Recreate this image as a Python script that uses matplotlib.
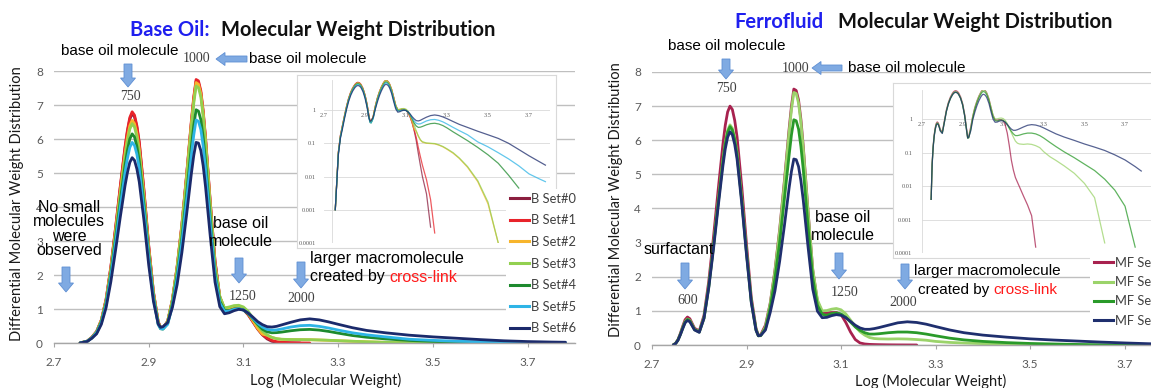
import numpy as np
import matplotlib
matplotlib.use("Agg")
import matplotlib.pyplot as plt
from matplotlib.patches import FancyArrow
from matplotlib.lines import Line2D
from matplotlib.ticker import NullLocator

nan = np.nan

# ---------------- data: base oil ----------------
log_mw_base = [2.755, 2.77, 2.78, 2.79, 2.80, 2.81, 2.82, 2.83, 2.84, 2.85,
               2.855, 2.86, 2.865, 2.87, 2.875, 2.88, 2.89, 2.90, 2.91, 2.92,
               2.925, 2.93, 2.94, 2.95, 2.96, 2.97, 2.98, 2.99, 2.995, 3.00,
               3.005, 3.01, 3.015, 3.02, 3.03, 3.04, 3.05, 3.06, 3.07, 3.08,
               3.09, 3.10, 3.11, 3.12, 3.13, 3.14, 3.15, 3.16, 3.17, 3.18,
               3.20, 3.22, 3.24, 3.26, 3.28, 3.30, 3.33, 3.36, 3.40, 3.45,
               3.50, 3.55, 3.60, 3.65, 3.70, 3.75, 3.78]

b_set0 = [0.001, 0.053, 0.17, 0.34, 0.67, 1.28, 2.22, 3.37, 4.58, 5.73,
          6.21, 6.58, 6.75, 6.65, 6.34, 5.87, 4.45, 2.84, 1.49, 0.62,
          0.46, 0.44, 0.64, 1.27, 2.24, 3.46, 4.93, 6.48, 7.18, 7.70,
          7.66, 7.37, 6.78, 5.99, 4.11, 2.40, 1.35, 1.00, 1.00, 1.04,
          1.04, 0.98, 0.83, 0.62, 0.41, 0.24, 0.12, 0.05, 0.022, 0.01,
          0.003, 0.0003] + [nan] * 15
b_set1 = [0.001, 0.054, 0.17, 0.34, 0.68, 1.29, 2.24, 3.40, 4.62, 5.78,
          6.26, 6.63, 6.80, 6.70, 6.39, 5.92, 4.49, 2.86, 1.50, 0.62,
          0.46, 0.44, 0.64, 1.28, 2.26, 3.49, 4.96, 6.53, 7.23, 7.75,
          7.71, 7.42, 6.83, 6.03, 4.14, 2.41, 1.36, 1.00, 1.01, 1.05,
          1.05, 0.99, 0.84, 0.63, 0.42, 0.25, 0.15, 0.075, 0.04, 0.022,
          0.008, 0.002, 0.0002] + [nan] * 14
b_set2 = [0.001, 0.052, 0.16, 0.33, 0.66, 1.24, 2.16, 3.28, 4.45, 5.57,
          6.03, 6.39, 6.55, 6.45, 6.16, 5.70, 4.32, 2.75, 1.44, 0.61,
          0.45, 0.42, 0.64, 1.26, 2.23, 3.44, 4.90, 6.45, 7.13, 7.66,
          7.61, 7.33, 6.75, 5.95, 4.05, 2.29, 1.36, 1.02, 1.04, 1.08,
          1.08, 1.02, 0.86, 0.65, 0.43, 0.26, 0.23, 0.163, 0.125, 0.108,
          0.10, 0.098, 0.096, 0.088, 0.078, 0.066, 0.05, 0.035, 0.019, 0.007,
          0.0015, 0.0001] + [nan] * 5
b_set3 = [0.001, 0.05, 0.16, 0.32, 0.65, 1.23, 2.13, 3.23, 4.39, 5.48,
          5.93, 6.29, 6.45, 6.35, 6.06, 5.61, 4.26, 2.71, 1.42, 0.60,
          0.44, 0.42, 0.63, 1.25, 2.20, 3.40, 4.83, 6.36, 7.04, 7.56,
          7.51, 7.24, 6.67, 5.88, 4.00, 2.28, 1.37, 1.03, 1.06, 1.10,
          1.11, 1.06, 0.93, 0.73, 0.52, 0.35, 0.235, 0.166, 0.128, 0.111,
          0.102, 0.10, 0.098, 0.09, 0.08, 0.068, 0.052, 0.036, 0.02, 0.0075,
          0.0017, 0.0001] + [nan] * 5
b_set4 = [0.001, 0.05, 0.15, 0.31, 0.62, 1.17, 2.03, 3.08, 4.18, 5.23,
          5.66, 6.00, 6.15, 6.06, 5.78, 5.35, 4.06, 2.58, 1.35, 0.56,
          0.42, 0.41, 0.57, 1.14, 2.00, 3.08, 4.38, 5.77, 6.39, 6.86,
          6.82, 6.57, 6.05, 5.34, 3.63, 2.05, 1.23, 0.96, 0.95, 1.00,
          1.01, 0.97, 0.86, 0.71, 0.55, 0.405, 0.33, 0.30, 0.305, 0.32,
          0.36, 0.39, 0.40, 0.38, 0.34, 0.29, 0.22, 0.17, 0.12, 0.075,
          0.045, 0.025, 0.011, 0.0045] + [nan] * 3
b_set5 = [0.001, 0.047, 0.15, 0.30, 0.59, 1.12, 1.95, 2.95, 4.01, 5.02,
          5.43, 5.75, 5.90, 5.81, 5.55, 5.13, 3.89, 2.48, 1.30, 0.54,
          0.42, 0.41, 0.55, 1.09, 1.91, 2.95, 4.19, 5.52, 6.11, 6.56,
          6.52, 6.28, 5.79, 5.10, 3.47, 1.97, 1.18, 0.93, 0.94, 0.99,
          1.01, 0.97, 0.88, 0.73, 0.58, 0.47, 0.40, 0.38, 0.385, 0.41,
          0.47, 0.51, 0.52, 0.49, 0.44, 0.38, 0.30, 0.24, 0.18, 0.11,
          0.078, 0.052, 0.034, 0.021, 0.012, 0.0085, 0.007]
b_set6 = [0.001, 0.044, 0.14, 0.27, 0.55, 1.04, 1.80, 2.73, 3.71, 4.63,
          5.01, 5.31, 5.45, 5.37, 5.12, 4.74, 3.60, 2.29, 1.22, 0.56,
          0.46, 0.48, 0.60, 1.05, 1.72, 2.66, 3.78, 4.98, 5.51, 5.90,
          5.88, 5.66, 5.21, 4.59, 3.13, 1.79, 1.07, 0.86, 0.89, 0.95,
          0.99, 0.97, 0.88, 0.76, 0.63, 0.54, 0.48, 0.47, 0.49, 0.53,
          0.61, 0.68, 0.71, 0.68, 0.62, 0.55, 0.45, 0.37, 0.30, 0.23,
          0.18, 0.14, 0.10, 0.065, 0.042, 0.028, 0.022]

base_labels = ["B Set#0", "B Set#1", "B Set#2", "B Set#3",
               "B Set#4", "B Set#5", "B Set#6"]
base_colors = ["#8B1E3F", "#E8232A", "#F7B52C", "#92D050",
               "#1E8A2E", "#2EB4E6", "#1B2A6B"]

# ---------------- data: ferrofluid ----------------
log_mw_ferro = [2.745, 2.75, 2.755, 2.76, 2.765, 2.77, 2.775, 2.78, 2.785, 2.79,
                2.80, 2.81, 2.82, 2.83, 2.84, 2.85, 2.855, 2.86, 2.865, 2.87,
                2.875, 2.88, 2.89, 2.90, 2.91, 2.92, 2.925, 2.93, 2.94, 2.95,
                2.96, 2.97, 2.98, 2.99, 2.995, 3.00, 3.005, 3.01, 3.015, 3.02,
                3.03, 3.04, 3.05, 3.06, 3.07, 3.08, 3.09, 3.10, 3.11, 3.12,
                3.13, 3.14, 3.15, 3.16, 3.17, 3.18, 3.20, 3.22, 3.24, 3.26,
                3.28, 3.30, 3.33, 3.36, 3.40, 3.45, 3.50, 3.55, 3.60, 3.65,
                3.70, 3.75, 3.78]

mf_set0 = [0.004, 0.05, 0.16, 0.34, 0.55, 0.74, 0.82, 0.77, 0.63, 0.49,
           0.41, 0.87, 1.86, 3.15, 4.55, 5.88, 6.44, 6.83, 7.00, 6.90,
           6.58, 6.09, 4.62, 2.94, 1.40, 0.49, 0.28, 0.30, 0.58, 1.22,
           2.18, 3.38, 4.80, 6.32, 7.00, 7.50, 7.46, 7.18, 6.61, 5.82,
           3.94, 2.21, 1.27, 0.96, 0.93, 0.95, 0.95, 0.89, 0.66, 0.38,
           0.16, 0.06, 0.03, 0.018, 0.013, 0.0095, 0.005, 0.0027, 0.0013, 0.00015] + [nan] * 13
mf_set1 = [0.004, 0.045, 0.15, 0.31, 0.51, 0.68, 0.76, 0.72, 0.59, 0.46,
           0.39, 0.80, 1.72, 2.90, 4.19, 5.42, 5.93, 6.29, 6.45, 6.35,
           6.06, 5.61, 4.26, 2.71, 1.29, 0.45, 0.27, 0.27, 0.53, 1.20,
           2.15, 3.33, 4.74, 6.24, 6.90, 7.40, 7.37, 7.09, 6.53, 5.76,
           3.91, 2.22, 1.32, 1.00, 1.01, 1.05, 1.07, 1.03, 0.91, 0.73,
           0.54, 0.39, 0.29, 0.22, 0.19, 0.18, 0.175, 0.18, 0.175, 0.16,
           0.14, 0.105, 0.075, 0.058, 0.04, 0.024, 0.012, 0.0045, 0.0002] + [nan] * 4
mf_set2 = [0.004, 0.045, 0.15, 0.31, 0.50, 0.67, 0.75, 0.71, 0.58, 0.45,
           0.38, 0.79, 1.70, 2.88, 4.16, 5.38, 5.89, 6.24, 6.40, 6.30,
           6.02, 5.57, 4.22, 2.69, 1.28, 0.45, 0.27, 0.28, 0.48, 1.08,
           1.94, 3.00, 4.27, 5.56, 6.16, 6.60, 6.57, 6.33, 5.82, 5.14,
           3.49, 1.97, 1.16, 0.90, 0.87, 0.92, 0.94, 0.91, 0.81, 0.67,
           0.53, 0.43, 0.36, 0.32, 0.32, 0.33, 0.36, 0.38, 0.38, 0.36,
           0.32, 0.27, 0.20, 0.15, 0.105, 0.07, 0.045, 0.029, 0.016, 0.0075,
           0.0025, 0.00015, nan]
mf_set3 = [0.004, 0.043, 0.14, 0.30, 0.48, 0.65, 0.72, 0.68, 0.56, 0.44,
           0.37, 0.78, 1.67, 2.81, 4.06, 5.25, 5.75, 6.09, 6.25, 6.16,
           5.88, 5.44, 4.13, 2.63, 1.25, 0.43, 0.27, 0.28, 0.44, 0.95,
           1.58, 2.45, 3.49, 4.60, 5.09, 5.45, 5.43, 5.23, 4.81, 4.24,
           2.89, 1.64, 0.99, 0.80, 0.81, 0.86, 0.89, 0.87, 0.80, 0.69,
           0.58, 0.50, 0.46, 0.46, 0.48, 0.51, 0.58, 0.65, 0.68, 0.66,
           0.61, 0.54, 0.44, 0.36, 0.29, 0.23, 0.18, 0.145, 0.115, 0.085,
           0.06, 0.038, 0.028]

ferro_labels = ["MF Set#0", "MF Set#1", "MF Set#2", "MF Set#3"]
ferro_colors = ["#A8224F", "#9BD36A", "#2A9A2A", "#1F2F6E"]

x_ticks = [2.7, 2.9, 3.1, 3.3, 3.5, 3.7]
y_ticks = [0, 1, 2, 3, 4, 5, 6, 7, 8]
inset_y_ticks = [1e-4, 1e-3, 1e-2, 1e-1, 1]
inset_y_labels = ["0.0001", "0.001", "0.01", "0.1", "1"]

# ---------------- figure ----------------
W, H = 1151, 388
fig = plt.figure(figsize=(W / 100, H / 100), dpi=100)

SANS = ["Lato", "DejaVu Sans"]
ARIAL = ["Liberation Sans", "DejaVu Sans"]
SERIF = ["Liberation Serif", "DejaVu Serif"]
ARROW_FC = "#7FAAE2"
ARROW_EC = "#5F8FD3"


def box(x0, y0, x1, y1):
    """Pixel box (top-left origin) -> figure fraction rect."""
    return [x0 / W, 1 - y1 / H, (x1 - x0) / W, (y1 - y0) / H]


def style_main(ax):
    ax.set_xlim(2.7, 3.8)
    ax.set_ylim(0, 8)
    ax.set_xticks(x_ticks)
    ax.set_xticklabels([f"{t:.1f}" for t in x_ticks])
    ax.set_yticks(y_ticks)
    ax.grid(axis="y", color="#BFBFBF", lw=1.0)
    ax.set_axisbelow(True)
    for s in ("left", "top", "right"):
        ax.spines[s].set_visible(False)
    ax.spines["bottom"].set_color("#A6A6A6")
    ax.spines["bottom"].set_linewidth(1.0)
    ax.tick_params(axis="x", length=3, color="#A6A6A6", pad=7,
                   labelsize=8.5, labelcolor="#595959")
    ax.tick_params(axis="y", length=0, pad=8, labelsize=8.5, labelcolor="#595959")
    for lab in ax.get_xticklabels() + ax.get_yticklabels():
        lab.set_family(SANS)


def style_inset(ax, xmax, ymax, vline_x, ypad):
    ax.set_yscale("log")
    ax.set_xlim(2.7, xmax)
    ax.set_ylim(1e-4, ymax)
    ax.set_facecolor("none")
    ax.set_yticks(inset_y_ticks)
    ax.set_yticklabels(inset_y_labels)
    ax.yaxis.set_minor_locator(NullLocator())
    ax.set_xticks(x_ticks)
    ax.set_xticklabels([f"{t:.1f}" for t in x_ticks])
    ax.spines["bottom"].set_position(("data", 1))
    for s in ax.spines.values():
        s.set_visible(False)
    ax.tick_params(axis="both", length=0, labelsize=4.5, labelcolor="#595959")
    ax.tick_params(axis="x", pad=2)
    ax.tick_params(axis="y", pad=ypad)
    ax.grid(axis="y", color="#D9D9D9", lw=0.6)
    ax.set_axisbelow(True)
    ax.axvline(vline_x, color="#D9D9D9", lw=0.6, zorder=0)
    for lab in ax.get_xticklabels() + ax.get_yticklabels():
        lab.set_family(SERIF)


def frame(rect):
    fr = fig.add_axes(rect, zorder=2)
    fr.set_xticks([])
    fr.set_yticks([])
    fr.set_facecolor("white")
    for s in fr.spines.values():
        s.set_color("#D9D9D9")
        s.set_linewidth(0.8)
    return fr


# main panels
axL = fig.add_axes(box(54, 71, 575, 343), zorder=1)
axR = fig.add_axes(box(652, 72, 1172, 345), zorder=1)
style_main(axL)
style_main(axR)

base_series = [b_set0, b_set1, b_set2, b_set3, b_set4, b_set5, b_set6]
ferro_series = [mf_set0, mf_set1, mf_set2, mf_set3]

for vals, col, lab in zip(base_series, base_colors, base_labels):
    axL.plot(log_mw_base, vals, color=col, lw=2.0, label=lab,
             solid_capstyle="round", solid_joinstyle="round")
for vals, col, lab in zip(ferro_series, ferro_colors, ferro_labels):
    axR.plot(log_mw_ferro, vals, color=col, lw=2.0, label=lab,
             solid_capstyle="round", solid_joinstyle="round")

# log-scale insets
frame(box(297, 75, 556, 248))
frame(box(893, 83, 1170, 258))
inL = fig.add_axes(box(324, 80, 549.5, 243), zorder=3)
inR = fig.add_axes(box(922, 90, 1151, 253), zorder=3)
style_inset(inL, 3.8, 8.0, 2.74, 6)
style_inset(inR, 3.828, 7.35, 2.7, 7)
for vals, col in zip(base_series, base_colors):
    inL.plot(log_mw_base, vals, color=col, lw=0.9, alpha=0.75)
for vals, col in zip(ferro_series, ferro_colors):
    inR.plot(log_mw_ferro, vals, color=col, lw=0.9, alpha=0.75)

# legends
leg_kw = dict(loc="upper left", frameon=True, facecolor="white", edgecolor="none",
              framealpha=1.0, fancybox=False, handlelength=1.45, handletextpad=0.15,
              borderpad=0.3, borderaxespad=0.0, labelcolor="#404040",
              prop={"family": SANS, "size": 9.3})
hL = [Line2D([], [], color=c, lw=2.2) for c in base_colors]
legL = fig.legend(hL, base_labels, bbox_to_anchor=(506 / W, 1 - 189 / H),
                  labelspacing=0.74, **leg_kw)
legL.set_zorder(20)
hR = [Line2D([], [], color=c, lw=2.2) for c in ferro_colors]
legR = fig.legend(hR, ferro_labels, bbox_to_anchor=(1090 / W, 1 - 253 / H),
                  labelspacing=0.56, **leg_kw)
legR.set_zorder(20)

# annotation layer in pixel coordinates
ov = fig.add_axes([0, 0, 1, 1], zorder=10)
ov.set_xlim(0, W)
ov.set_ylim(H, 0)
ov.axis("off")


def txt(x, y, s, size=11, color="black", family=ARIAL, ha="center", **kw):
    return ov.text(x, y, s, fontsize=size, color=color, family=family,
                   ha=ha, va="center", **kw)


def num(x, y, s):
    return txt(x, y, s, size=10, color="#404040", family=SERIF)


def down_arrow(x, y0, y1):
    ov.add_patch(FancyArrow(x, y0, 0, y1 - y0, width=8, head_width=15,
                            head_length=9, length_includes_head=True,
                            fc=ARROW_FC, ec=ARROW_EC, lw=0.6))


def left_arrow(x0, y, x1):
    ov.add_patch(FancyArrow(x0, y, x1 - x0, 0, width=6, head_width=13,
                            head_length=9, length_includes_head=True,
                            fc=ARROW_FC, ec=ARROW_EC, lw=0.6))


def two_tone(x, y, first, second, size):
    t = txt(x, y, first, size=size, ha="left")
    ov.annotate(second, xy=(1, 0), xycoords=t, ha="left", va="bottom",
                fontsize=size, color="#FF1A1A", family=ARIAL)


# titles
TITLE_BLUE = "#1F1FEF"
TSIZE = 14.5
ov.text(130, 30, "Base Oil:", fontsize=TSIZE, fontweight="bold", color=TITLE_BLUE,
        family=SANS, ha="left", va="center")
ov.text(221, 30, "Molecular Weight Distribution", fontsize=TSIZE, fontweight="bold",
        color="#111111", family=SANS, ha="left", va="center")
ov.text(734, 22, "Ferrofluid", fontsize=TSIZE, fontweight="bold", color=TITLE_BLUE,
        family=SANS, ha="left", va="center")
ov.text(838, 22, "Molecular Weight Distribution", fontsize=TSIZE, fontweight="bold",
        color="#111111", family=SANS, ha="left", va="center")

# axis titles
for x, y in ((17, 204), (616, 200)):
    ov.text(x, y, "Differential Molecular Weight Distribution", rotation=90,
            fontsize=10.5, color="#1A1A1A", family=SANS, ha="center", va="center")
for x, y in ((326, 380), (931, 381)):
    ov.text(x, y, "Log (Molecular Weight)", fontsize=10.5, color="#1A1A1A",
            family=SANS, ha="center", va="center")

# left panel callouts
txt(120, 51, "base oil molecule")
down_arrow(128, 64, 87)
num(130, 96, "750")
num(197, 59, "1000")
left_arrow(247, 59, 216)
txt(249, 59, "base oil molecule", ha="left")
txt(69, 229, "No small\nmolecules\nwere\nobserved", size=11.5, linespacing=0.92)
down_arrow(66, 267, 292)
txt(241, 233, "base oil\nmolecule", size=11.5, linespacing=1.25)
down_arrow(239, 258, 283)
num(243, 297, "1250")
down_arrow(301, 262, 288)
num(301, 298, "2000")
txt(310, 258, "larger macromolecule", size=11.5, ha="left")
two_tone(310, 277, "created by ", "cross-link", 11.5)

# right panel callouts
txt(727, 46, "base oil molecule")
down_arrow(726, 59, 79)
num(726, 89, "750")
num(796, 69, "1000")
left_arrow(842, 68, 812)
txt(848, 68, "base oil molecule", ha="left")
txt(679, 250, "surfactant", size=11.5)
down_arrow(685, 263, 289)
num(688, 300, "600")
txt(843, 227, "base oil\nmolecule", size=11.5, linespacing=1.25)
down_arrow(839, 253, 279)
num(845, 292, "1250")
down_arrow(905, 264, 289)
num(903, 302, "2000")
txt(914, 271, "larger macromolecule", size=11, ha="left")
two_tone(918, 290, "created by ", "cross-link", 11)

fig.savefig("out.png", dpi=100)
